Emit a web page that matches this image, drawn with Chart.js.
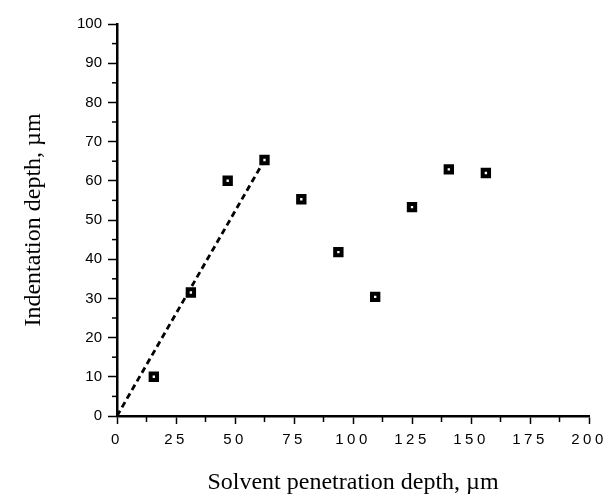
<!DOCTYPE html>
<html>
<head>
<meta charset="utf-8">
<script src="https://cdn.jsdelivr.net/npm/chart.js@4.4.1/dist/chart.umd.min.js"></script>
<style>html,body{margin:0;padding:0;background:#fff}</style>
</head>
<body>
<canvas id="c" width="608" height="498"></canvas>
<script>
// data
const penetration=[15.6,31.3,46.9,62.5,78.1,93.8,109.4,125,140.6,156.3];
const indentation=[10,31.5,60,65.3,55.3,41.8,30.4,53.3,62.9,62];
const fitX=[0,62.5];
const fitY=[0,65.3];
const xTickLabels=[0,25,50,75,100,125,150,175,200];
const xMinor=[12.5,37.5,62.5,87.5,112.5,137.5,162.5,187.5];
const yMinor=[5,15,25,35,45,55,65,75,85,95];

// minor ticks + spaced x labels
const axisExtras={id:'axisExtras',afterDraw(chart){
  const {ctx,scales:{x,y}}=chart;
  ctx.save();
  ctx.strokeStyle='#000'; ctx.lineWidth=1.5;
  xMinor.forEach(v=>{ const px=x.getPixelForValue(v); ctx.beginPath(); ctx.moveTo(px,x.top); ctx.lineTo(px,x.top+6); ctx.stroke(); });
  yMinor.forEach(v=>{ const py=y.getPixelForValue(v); ctx.beginPath(); ctx.moveTo(y.right,py); ctx.lineTo(y.right-5,py); ctx.stroke(); });
  ctx.fillStyle='#000'; ctx.font='15px "Liberation Sans"'; ctx.letterSpacing='3.5px';
  ctx.textAlign='center'; ctx.textBaseline='middle';
  xTickLabels.forEach(v=>ctx.fillText(String(v),x.getPixelForValue(v),x.top+24));
  ctx.restore();
}};

new Chart(document.getElementById('c'),{
  type:'scatter',
  data:{datasets:[
    {data:penetration.map((v,i)=>({x:v,y:indentation[i]})),
     pointStyle:'rect',pointRadius:4.5,borderWidth:4,borderColor:'#000',backgroundColor:'#fff',order:0},
    {type:'line',data:fitX.map((v,i)=>({x:v,y:fitY[i]})),
     borderColor:'#000',borderWidth:2.8,borderDash:[6,4],pointRadius:0,fill:false,order:1}
  ]},
  options:{
    responsive:false,animation:false,events:[],
    layout:{padding:{top:24,right:19,left:0,bottom:0}},
    plugins:{legend:{display:false},tooltip:{enabled:false}},
    scales:{
      x:{type:'linear',min:0,max:200,
        ticks:{stepSize:25,display:false},
        grid:{drawOnChartArea:false,tickLength:8,tickWidth:1.5,tickColor:'#000'},
        border:{color:'#000',width:2.5},
        title:{display:true,text:'Solvent penetration depth, µm',color:'#000',
          font:{family:'Liberation Serif',size:24},padding:{top:0,bottom:1}},
        afterFit(s){ s.height=82; }},
      y:{min:0,max:100,
        ticks:{stepSize:10,color:'#000',font:{family:'Liberation Sans',size:15},padding:6},
        grid:{drawOnChartArea:false,tickLength:9,tickWidth:1.5,tickColor:'#000'},
        border:{color:'#000',width:2.5},
        title:{display:true,text:'Indentation depth, µm',color:'#000',
          font:{family:'Liberation Serif',size:24},padding:{top:19,bottom:0}},
        afterFit(s){ s.width=117; }}
    }
  },
  plugins:[axisExtras]
});
</script>
</body>
</html>
